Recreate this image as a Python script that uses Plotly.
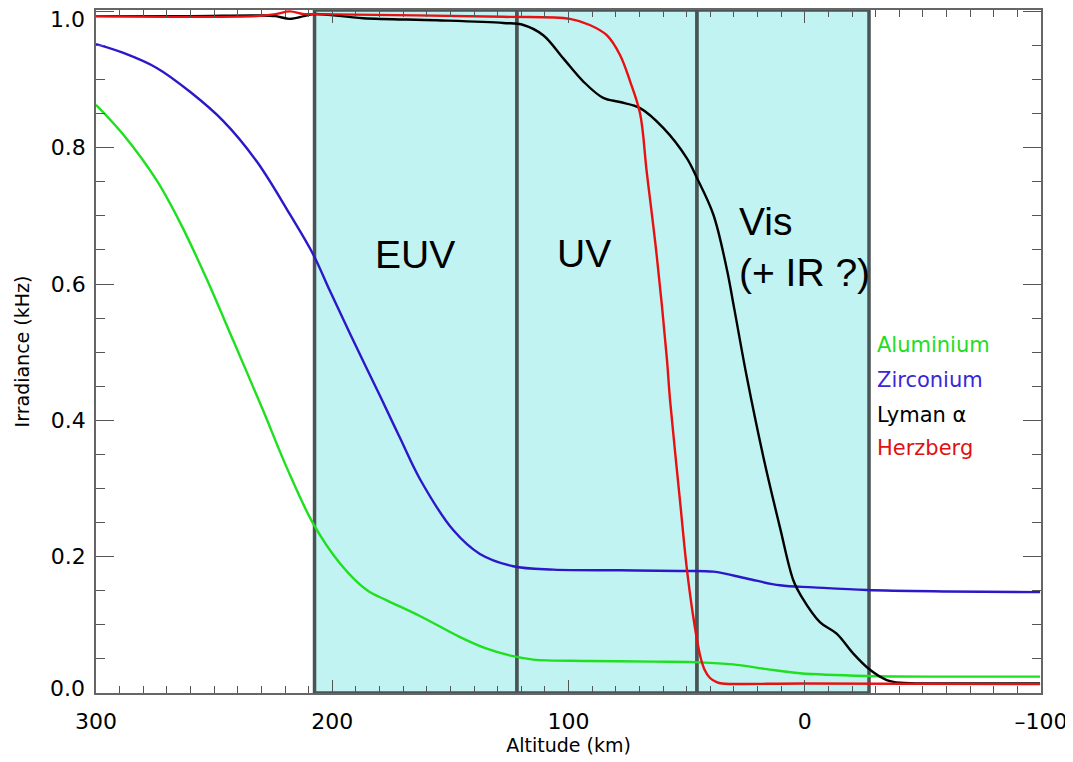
import plotly.graph_objects as go

# ---------------- data ----------------
aluminium_x = [300, 288.4, 274.3, 264.4, 253.1, 241.9, 229.2, 219.3, 208.0,
               196.7, 185.4, 176.9, 162.9, 145.9, 134.6, 123.4, 114.9, 92.3, 64.1,
               44.3, 30.4, 16.1, 2.0, -26.2, -60, -99.6]
aluminium_y = [0.863, 0.819, 0.752, 0.690, 0.607, 0.517, 0.414, 0.331, 0.248,
               0.190, 0.151, 0.136, 0.113, 0.082, 0.065, 0.054, 0.049, 0.047, 0.046,
               0.045, 0.042, 0.035, 0.029, 0.025, 0.024, 0.024]

zirconium_x = [300, 288.4, 274.3, 260.2, 246.1, 232.0, 217.9, 208.0, 201.0, 191.1, 179.8,
               171.3, 162.9, 148.8, 137.5, 123.4, 106.4, 78.2, 52.8, 38.7, 24.6, 10.5, -3.6,
               -26.2, -60, -99.6]
zirconium_y = [0.952, 0.939, 0.917, 0.882, 0.839, 0.780, 0.702, 0.643, 0.590, 0.517, 0.436,
               0.374, 0.314, 0.239, 0.204, 0.186, 0.181, 0.180, 0.179, 0.178, 0.168, 0.158,
               0.155, 0.151, 0.149, 0.148]

lyman_x = [300, 260, 232, 224, 218, 212, 208, 186.9, 155.8, 127.6, 119.1, 110.7, 102.2, 93.7,
           85.3, 78.2, 69.7, 59.9, 50.0, 45.7, 38.7, 33.0, 29.9, 24.6, 17.5, 10.5, 4.8, 1.3,
           -6.4, -13.5, -20.5, -27.6, -34.7, -40.3, -60, -99.6]
lyman_y = [0.993, 0.993, 0.994, 0.993, 0.989, 0.993, 0.996, 0.990, 0.987, 0.983, 0.980, 0.965,
           0.931, 0.897, 0.873, 0.867, 0.858, 0.829, 0.785, 0.756, 0.702, 0.622, 0.565, 0.465,
           0.346, 0.243, 0.165, 0.141, 0.104, 0.087, 0.058, 0.034, 0.019, 0.015, 0.014, 0.014]

herzberg_x = [300, 232, 224, 218, 212, 208, 127.6, 99.4, 91.0, 83.8, 78.2, 73.9, 69.7, 66.9,
              62.7, 58.4, 57.0, 52.8, 50.0, 47.2, 44.3, 42.5, 40.1, 37.3, 35.0, 0, -99.6]
herzberg_y = [0.993, 0.993, 0.996, 1.0, 0.996, 0.996, 0.992, 0.989, 0.980, 0.965, 0.936, 0.897,
              0.850, 0.765, 0.643, 0.492, 0.429, 0.282, 0.185, 0.112, 0.055, 0.035, 0.022,
              0.016, 0.014, 0.014, 0.013]

band_edges = [207.5, 121.8, 45.6, -27.2]

series_names = ["Aluminium", "Zirconium", "Lyman \u03b1", "Herzberg"]
series_colors = ["#1EE01E", "#2B18C8", "#000000", "#E81010"]
label_colors = ["#22DD22", "#3A28D8", "#000000", "#E01010"]

x_ticks = [300, 200, 100, 0, -100]
x_ticktext = ["300", "200", "100", "0", "\u2013100"]
y_ticks = [0.0, 0.2, 0.4, 0.6, 0.8, 1.0]
# end labels (0.0 and 1.0) are drawn as annotations, nudged inward like the original
y_ticktext = ["", "0.2", "0.4", "0.6", "0.8", ""]
y_end_labels = ["0.0", "1.0"]

Y_TOP = 1.002

# ---------------- figure ----------------
fig = go.Figure()

for i in range(len(band_edges) - 1):
    fig.add_shape(type="rect", xref="x", yref="y",
                  x0=band_edges[i], x1=band_edges[i + 1], y0=0, y1=Y_TOP,
                  fillcolor="#C2F3F3", line=dict(color="#4A5454", width=3.5),
                  layer="below")

xs = [aluminium_x, zirconium_x, lyman_x, herzberg_x]
ys = [aluminium_y, zirconium_y, lyman_y, herzberg_y]
for name, x, y, c in zip(series_names, xs, ys, series_colors):
    fig.add_trace(go.Scatter(x=x, y=y, mode="lines", name=name,
                             line=dict(color=c, width=2.4, shape="spline", smoothing=1.0),
                             showlegend=False))

# band labels
band_font = dict(family="Liberation Sans", size=39, color="black")
fig.add_annotation(x=165, y=0.644, xref="x", yref="y", text="EUV", showarrow=False,
                   font=band_font)
fig.add_annotation(x=93.4, y=0.645, xref="x", yref="y", text="UV", showarrow=False,
                   font=band_font)
fig.add_annotation(x=28.7, y=0.654, xref="x", yref="y", text="Vis<br>(+ IR ?)",
                   showarrow=False, xanchor="left", align="left", font=band_font)

# legend-like labels
legend_y = [0.511, 0.459, 0.408, 0.359]
for name, c, yy in zip(series_names, label_colors, legend_y):
    fig.add_annotation(x=-29.7, y=yy, xref="x", yref="y", text=name, showarrow=False,
                       xanchor="left", font=dict(family="DejaVu Sans", size=21, color=c))

# y end labels
tick_font = dict(family="DejaVu Sans", size=22, color="black")
fig.add_annotation(x=0, y=0, xref="paper", yref="paper", text=y_end_labels[0],
                   showarrow=False, xanchor="right", yanchor="middle",
                   xshift=-9, yshift=5, font=tick_font)
fig.add_annotation(x=0, y=1, xref="paper", yref="paper", text=y_end_labels[1],
                   showarrow=False, xanchor="right", yanchor="middle",
                   xshift=-9, yshift=-9, font=tick_font)

axis_common = dict(showline=True, linecolor="#666666", linewidth=1.5, mirror="allticks",
                   ticks="inside", tickcolor="#555555", tickwidth=1.2, showgrid=False,
                   zeroline=False, automargin=False, ticklabeloverflow="allow",
                   tickfont=tick_font)

fig.update_xaxes(range=[300, -100], tickvals=x_ticks, ticktext=x_ticktext, ticklen=13,
                 minor=dict(dtick=10, tick0=0, ticks="inside", ticklen=7,
                            tickcolor="#555555", tickwidth=1.1, showgrid=False),
                 ticklabelstandoff=8,
                 title=dict(text="Altitude (km)", standoff=6,
                            font=dict(family="DejaVu Sans", size=19, color="black")),
                 **axis_common)
fig.update_yaxes(range=[0, Y_TOP], tickvals=y_ticks, ticktext=y_ticktext, ticklen=18,
                 minor=dict(dtick=0.05, tick0=0, ticks="inside", ticklen=9,
                            tickcolor="#555555", tickwidth=1.1, showgrid=False),
                 ticklabelstandoff=4,
                 title=dict(text="Irradiance (kHz)", standoff=16,
                            font=dict(family="DejaVu Sans", size=19, color="black")),
                 **axis_common)

# the page adds an 8px body margin, so the figure is sized to fit the window after it
fig.update_layout(width=1065, height=754, plot_bgcolor="white", paper_bgcolor="white",
                  margin=dict(l=88, r=32, t=2, b=69), showlegend=False)

fig.write_html("out.html")
